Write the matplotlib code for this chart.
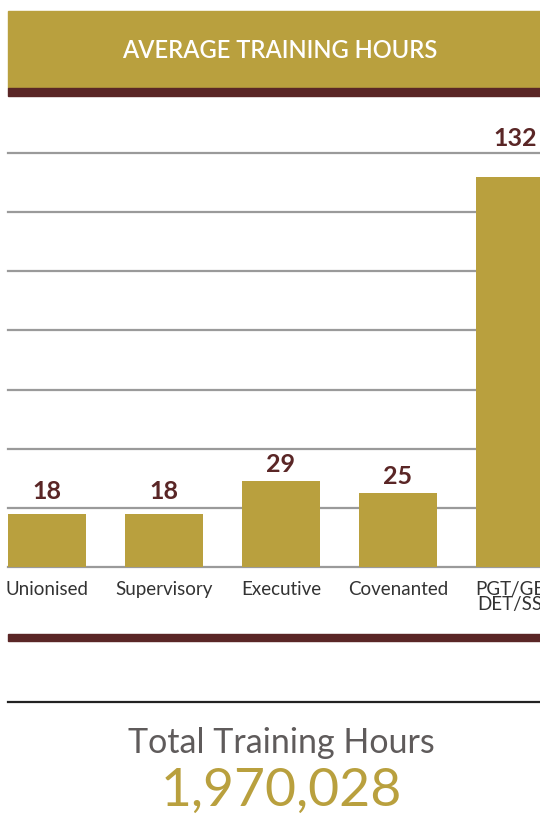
import matplotlib.pyplot as plt
from matplotlib.patches import Rectangle

# chart data
categories = ["Unionised", "Supervisory", "Executive", "Covenanted", "PGT/GET\nDET/SST"]
avg_hours = [18, 18, 29, 25, 132]
grid_values = [0, 20, 40, 60, 80, 100, 120, 140]
total_label = "Total Training Hours"
total_value = "1,970,028"

gold = "#b9a03e"
maroon = "#5a2626"
W, H = 540, 827
label_pad = [3.5, 3.5, 1.8, 1.8, 9]  # gap between bar top and its value label

plt.rcParams["font.family"] = ["Lato", "DejaVu Sans"]
fig = plt.figure(figsize=(W / 100, H / 100), dpi=100)


def fx(x):
    return x / W


def fy(y):
    return 1 - y / H


# banner
fig.patches.append(Rectangle((fx(8), fy(88)), fx(532), 77 / H, transform=fig.transFigure,
                             color=gold, zorder=0))
fig.patches.append(Rectangle((fx(8), fy(96)), fx(532), 8 / H, transform=fig.transFigure,
                             color=maroon, zorder=0))
fig.text(fx(280), fy(50), "AVERAGE TRAINING HOURS", color="white", fontsize=17,
         fontweight="semibold", ha="center", va="center")

# bar chart
ax = fig.add_axes([fx(8), fy(567), fx(532), (567 - 153) / H])
x = range(len(categories))
ax.bar(x, avg_hours, width=0.667, color=gold, zorder=2)
ax.set_xlim(-0.333, -0.333 + 532 / 117)
ax.set_ylim(0, 140)
for g in grid_values:
    ax.axhline(g, color="#9a9a9a", lw=1.6, zorder=1, clip_on=False)
for i, v in enumerate(avg_hours):
    ax.text(i, v + label_pad[i], str(v), color=maroon, fontsize=18, fontweight="bold",
            ha="center", va="bottom")
ax.set_xticks(list(x))
ax.set_xticklabels(categories, fontsize=13.5, color="#333333", linespacing=0.9)
ax.tick_params(axis="x", length=0, pad=10)
ax.set_yticks([])
for s in ax.spines.values():
    s.set_visible(False)
ax.patch.set_alpha(0)

# lower rules and total
fig.patches.append(Rectangle((fx(8), fy(641)), fx(532), 7 / H, transform=fig.transFigure,
                             color=maroon, zorder=0))
fig.add_artist(plt.Line2D([fx(8), 1], [fy(702), fy(702)], transform=fig.transFigure,
                          color="#222222", lw=1.6))
fig.text(fx(281), fy(743), total_label, color="#5f5b5b", fontsize=24.5,
         ha="center", va="center")
fig.text(fx(281), fy(791), total_value, color=gold, fontsize=38.5,
         ha="center", va="center")

fig.savefig("out.png", dpi=100)
